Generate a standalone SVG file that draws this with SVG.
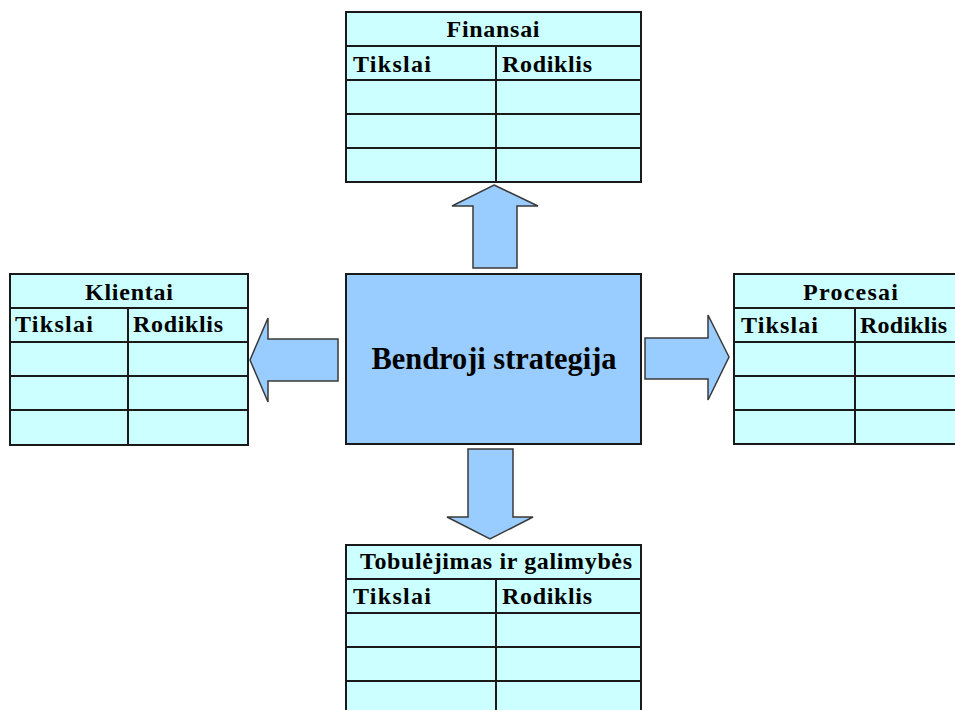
<svg xmlns="http://www.w3.org/2000/svg" width="955" height="710" viewBox="0 0 955 710">
<style>
.tbl{fill:#CCFFFF;stroke:#1a1a1a;stroke-width:2}
.ln{stroke:#1a1a1a;stroke-width:2;fill:none}
.arr{fill:#99CCFF;stroke:#3a3a3a;stroke-width:1.5;stroke-linejoin:miter}
.t{font-family:"Liberation Serif","DejaVu Serif",serif;font-weight:bold;font-size:24px;fill:#000}
.c{text-anchor:middle}
.big{font-size:31px}
</style>
<rect width="955" height="710" fill="#ffffff"/>
<g id="connectors">
<polygon class="arr" points="494,185 538,206 517,206 517,268 473,268 473,206 452,206"/>
<polygon class="arr" points="250,360 268,318 268,339 338,339 338,381 268,381 268,402"/>
<polygon class="arr" points="729,357 708,315 708,338 645,338 645,379 708,379 708,400"/>
<polygon class="arr" points="468,449 513,449 513,517 533,517 490,539 447,517 468,517"/>
</g>
<g id="center">
<rect x="346" y="274" width="295" height="170" fill="#99CCFF" stroke="#1a1a1a" stroke-width="2"/>
<text class="t big c" x="494" y="369" textLength="245" lengthAdjust="spacingAndGlyphs">Bendroji strategija</text>
</g>
<g id="finansai">
<rect class="tbl" x="346" y="12" width="295" height="170"/>
<path class="ln" d="M346 46H641M346 80H641M346 114H641M346 148H641M496 46V182"/>
<text class="t c" x="493" y="37" textLength="93" lengthAdjust="spacing">Finansai</text>
<text class="t" x="353" y="72" textLength="78" lengthAdjust="spacing">Tikslai</text>
<text class="t" x="502" y="72" textLength="90" lengthAdjust="spacing">Rodiklis</text>
</g>
<g id="klientai">
<rect class="tbl" x="10" y="274" width="238" height="171"/>
<path class="ln" d="M10 308H248M10 342H248M10 376H248M10 410H248M128 308V445"/>
<text class="t c" x="129" y="300" textLength="88" lengthAdjust="spacing">Klientai</text>
<text class="t" x="15" y="332" textLength="78" lengthAdjust="spacing">Tikslai</text>
<text class="t" x="133" y="332" textLength="90" lengthAdjust="spacing">Rodiklis</text>
</g>
<g id="procesai">
<rect class="tbl" x="734" y="274" width="241" height="170"/>
<path class="ln" d="M734 308H975M734 342H975M734 376H975M734 410H975M855 308V444"/>
<text class="t c" x="850.5" y="300" textLength="95" lengthAdjust="spacing">Procesai</text>
<text class="t" x="741" y="333" textLength="77" lengthAdjust="spacing">Tikslai</text>
<text class="t" x="860" y="333" textLength="87" lengthAdjust="spacing">Rodiklis</text>
</g>
<g id="tobulejimas">
<rect class="tbl" x="346" y="545" width="295" height="205"/>
<path class="ln" d="M346 579H641M346 613H641M346 647H641M346 681H641M496 579V750"/>
<text class="t c" x="496" y="569" textLength="272" lengthAdjust="spacing">Tobulėjimas ir galimybės</text>
<text class="t" x="353" y="604" textLength="78" lengthAdjust="spacing">Tikslai</text>
<text class="t" x="502" y="604" textLength="90" lengthAdjust="spacing">Rodiklis</text>
</g>
</svg>
